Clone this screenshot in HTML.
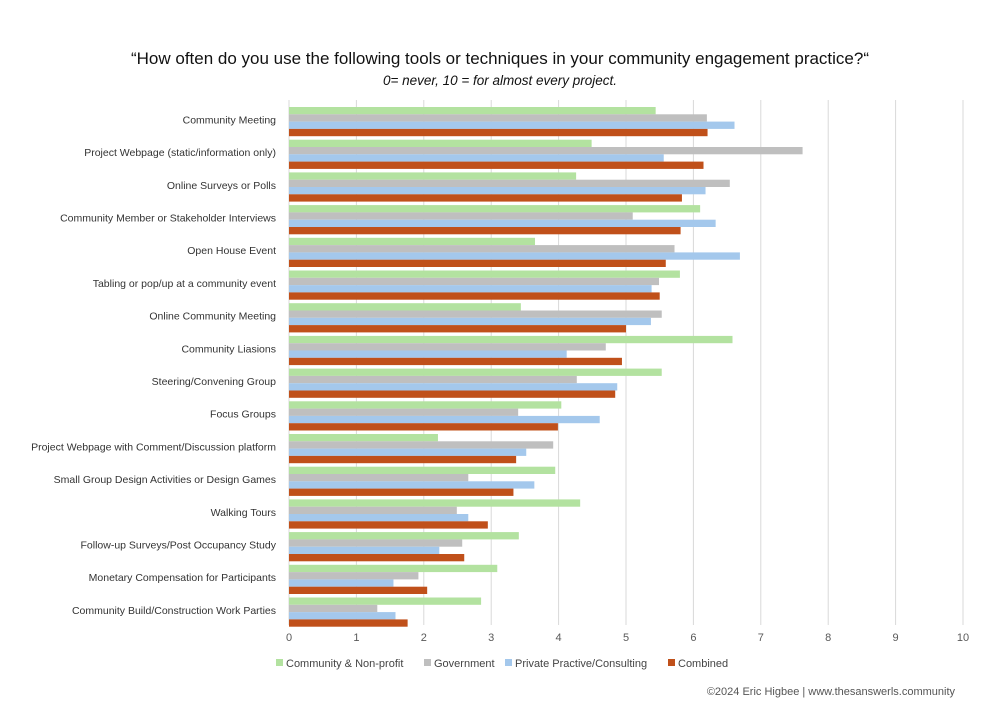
<!DOCTYPE html>
<html><head><meta charset="utf-8"><style>
body{margin:0;background:#fff;width:1000px;height:720px;overflow:hidden;font-family:"Liberation Sans",sans-serif}
</style></head><body>
<svg id="chart" width="1000" height="720" xmlns="http://www.w3.org/2000/svg">
<text x="500" y="64" text-anchor="middle" font-size="17" fill="#111">“How often do you use the following tools or techniques in your community engagement practice?“</text>
<text x="500" y="85" text-anchor="middle" font-size="13.5" font-style="italic" fill="#111">0= never, 10 = for almost every project.</text>
<g id="grid"></g><g id="bars"></g><g id="labels"></g><g id="ticks"></g><g id="legend"></g>
<text x="955" y="695" text-anchor="end" font-size="11" fill="#555">©2024 Eric Higbee | www.thesanswerls.community</text>
</svg>
<script>
const categories=["Community Meeting","Project Webpage (static/information only)","Online Surveys or Polls","Community Member or Stakeholder Interviews","Open House Event","Tabling or pop/up at a community event","Online Community Meeting","Community Liasions","Steering/Convening Group","Focus Groups","Project Webpage with Comment/Discussion platform","Small Group Design Activities or Design Games","Walking Tours","Follow-up Surveys/Post Occupancy Study","Monetary Compensation for Participants","Community Build/Construction Work Parties"];
const communityValues=[5.44,4.49,4.26,6.10,3.65,5.80,3.44,6.58,5.53,4.04,2.21,3.95,4.32,3.41,3.09,2.85];
const governmentValues=[6.20,7.62,6.54,5.10,5.72,5.49,5.53,4.70,4.27,3.40,3.92,2.66,2.49,2.57,1.92,1.31];
const privateValues=[6.61,5.56,6.18,6.33,6.69,5.38,5.37,4.12,4.87,4.61,3.52,3.64,2.66,2.23,1.55,1.58];
const combinedValues=[6.21,6.15,5.83,5.81,5.59,5.50,5.00,4.94,4.84,3.99,3.37,3.33,2.95,2.60,2.05,1.76];
const seriesNames=["Community & Non-profit","Government","Private Practive/Consulting","Combined"];
const tickLabels=[0,1,2,3,4,5,6,7,8,9,10];
const colors=["#b3e2a0","#bfbfbf","#a4c8ec","#c0501a"];
const NS="http://www.w3.org/2000/svg";
const x0=289,x1=963,top0=103.5,band=32.7,bh=7.3;
function xs(v){return x0+(x1-x0)*v/10;}
function mk(tag,attrs,parent,txt){const e=document.createElementNS(NS,tag);for(const k in attrs)e.setAttribute(k,attrs[k]);if(txt!==undefined)e.textContent=txt;document.getElementById(parent).appendChild(e);return e;}
tickLabels.forEach(t=>{
  const g=mk('line',{x1:xs(t),x2:xs(t),y1:100,y2:625,stroke:'#d9d9d9','stroke-width':1},'grid');
  
  
  const l=mk('text',{x:xs(t),y:641,'text-anchor':'middle','font-size':11,fill:'#595959'},'ticks',String(t));
  
  
});
const all=[communityValues,governmentValues,privateValues,combinedValues];
categories.forEach((c,i)=>{
  const y=top0+i*band;
  const t=mk('text',{x:276,y:y+band/2+3.5,'text-anchor':'end','font-size':10.5,fill:'#333'},'labels',c);
  
  
  all.forEach((arr,s)=>{
    const r=mk('rect',{x:x0,y:y+3.5+s*bh,width:xs(arr[s===0?i:i])-x0,height:bh,fill:colors[s]},'bars');
    r.setAttribute('width',xs(arr[i])-x0);
    
    
  });
});
const lx=[276,424,505,668];
seriesNames.forEach((n,s)=>{
  const r=mk('rect',{x:lx[s],y:659,width:7,height:7,fill:colors[s]},'legend');
  
  
  const t=mk('text',{x:lx[s]+10,y:667,'font-size':11,fill:'#444'},'legend',n);
  
  
});
</script>
</body></html>
